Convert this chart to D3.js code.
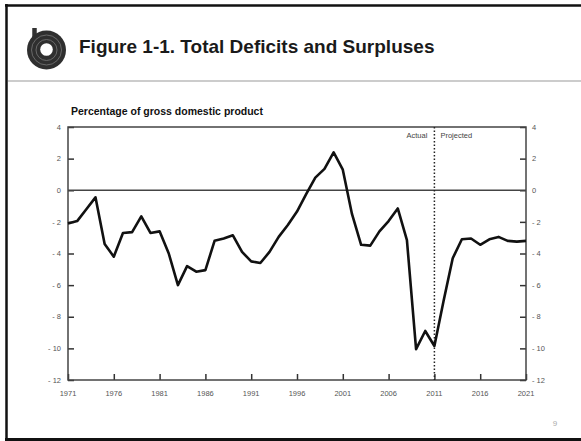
<!DOCTYPE html>
<html><head><meta charset="utf-8">
<script src="https://cdn.jsdelivr.net/npm/d3@7"></script>
<style>body{margin:0;background:#fff}svg{display:block}</style>
</head><body>
<script>
const years = d3.range(1971, 2022);
const deficits = [-2.1,-1.95,-1.2,-0.45,-3.4,-4.2,-2.7,-2.65,-1.65,-2.7,-2.6,-4.0,-6.0,-4.8,-5.15,-5.05,
  -3.2,-3.05,-2.85,-3.9,-4.5,-4.6,-3.9,-2.95,-2.2,-1.35,-0.25,0.8,1.35,2.4,1.3,
  -1.5,-3.45,-3.5,-2.6,-1.95,-1.15,-3.15,-10.05,-8.9,-9.85,
  -7.0,-4.3,-3.1,-3.05,-3.45,-3.1,-2.95,-3.2,-3.25,-3.2];
const yTicks = [4,2,0,-2,-4,-6,-8,-10,-12];
const xTicks = [1971,1976,1981,1986,1991,1996,2001,2006,2011,2016,2021];
const dividerYear = 2011;
const title = "Figure 1-1. Total Deficits and Surpluses";
const yLabel = "Percentage of gross domestic product";

const W = 581, H = 441;
const svg = d3.select("body").append("svg").attr("width", W).attr("height", H);

// page frame
svg.append("line").attr("x1",5).attr("x2",W).attr("y1",5.5).attr("y2",5.5).attr("stroke","#111").attr("stroke-width",2.5);
svg.append("line").attr("x1",6.5).attr("x2",6.5).attr("y1",4).attr("y2",440).attr("stroke","#111").attr("stroke-width",2.5);
svg.append("line").attr("x1",5).attr("x2",W).attr("y1",439.5).attr("y2",439.5).attr("stroke","#111").attr("stroke-width",3);
svg.append("line").attr("x1",8).attr("x2",W).attr("y1",81).attr("y2",81).attr("stroke","#bbb").attr("stroke-width",1.5);

// logo
const lg = svg.append("g").attr("transform","translate(46.5,50)");
lg.append("path").attr("d","M-12,-22 L-12,-8").attr("stroke","#333").attr("stroke-width",4.5).attr("fill","none");
lg.append("circle").attr("r",19.5).attr("fill","#2f2f2f");
lg.append("circle").attr("r",15).attr("fill","none").attr("stroke","#777").attr("stroke-width",0.8);
lg.append("circle").attr("r",10.5).attr("fill","none").attr("stroke","#777").attr("stroke-width",0.8);
lg.append("circle").attr("r",6.3).attr("cy",-0.5).attr("fill","#fff");

svg.append("text").attr("x",79).attr("y",52.5).text(title)
  .attr("font-family","Liberation Sans, Arial, sans-serif").attr("font-weight","bold")
  .attr("font-size",19).attr("fill","#1a1a1a");

svg.append("text").attr("x",555).attr("y",426).text("9")
  .attr("font-family","Liberation Sans, Arial, sans-serif").attr("font-size",8).attr("fill","#aaa").attr("text-anchor","middle");

// chart
const x = d3.scaleLinear().domain([1971,2021]).range([68,526]);
const y = d3.scaleLinear().domain([-12,4]).range([380,127]);
const fnt = "Liberation Sans, Arial, sans-serif";

svg.append("text").attr("x",71).attr("y",115).text(yLabel)
  .attr("font-family",fnt).attr("font-weight","bold").attr("font-size",10.5).attr("fill","#111");

const fmt = v => v < 0 ? "- " + Math.abs(v) : String(v);

const left = d3.axisRight(y).tickValues(yTicks).tickSize(6).tickFormat("");
const gl = svg.append("g").attr("transform",`translate(${x.range()[0]},0)`).call(left);
const right = d3.axisLeft(y).tickValues(yTicks).tickSize(6).tickFormat("");
const gr = svg.append("g").attr("transform",`translate(${x.range()[1]},0)`).call(right);
const bottom = d3.axisTop(x).tickValues(xTicks).tickSize(6).tickFormat("");
const gb = svg.append("g").attr("transform",`translate(0,${y.range()[0]})`).call(bottom);
[gl,gr,gb].forEach(g=>{
  g.select(".domain").remove();
  g.selectAll(".tick line").attr("stroke","#333").attr("stroke-width",1.5);
});

// tick labels
svg.append("g").selectAll("text").data(yTicks).join("text")
  .attr("x",61).attr("y",d=>y(d)+2.7).attr("text-anchor","end").text(fmt)
  .attr("font-family",fnt).attr("font-size",7.5).attr("fill","#555");
svg.append("g").selectAll("text").data(yTicks).join("text")
  .attr("x",532).attr("y",d=>y(d)+2.7).attr("text-anchor","start").text(fmt)
  .attr("font-family",fnt).attr("font-size",7.5).attr("fill","#555");
svg.append("g").selectAll("text").data(xTicks).join("text")
  .attr("x",d=>x(d)).attr("y",396).attr("text-anchor","middle").text(d=>d)
  .attr("font-family",fnt).attr("font-size",7.5).attr("fill","#555");

// frame
svg.append("rect").attr("x",68).attr("y",127).attr("width",458).attr("height",253)
  .attr("fill","none").attr("stroke","#444").attr("stroke-width",1.5);
// zero line
svg.append("line").attr("x1",68).attr("x2",526).attr("y1",y(0)).attr("y2",y(0))
  .attr("stroke","#444").attr("stroke-width",1.3);
// divider
svg.append("line").attr("x1",x(dividerYear)).attr("x2",x(dividerYear)).attr("y1",127).attr("y2",380)
  .attr("stroke","#222").attr("stroke-width",1.5).attr("stroke-dasharray","1.5,2");
svg.append("text").attr("x",x(dividerYear)-7).attr("y",138).attr("text-anchor","end").text("Actual")
  .attr("font-family",fnt).attr("font-size",7.5).attr("fill","#444");
svg.append("text").attr("x",x(dividerYear)+6).attr("y",138).attr("text-anchor","start").text("Projected")
  .attr("font-family",fnt).attr("font-size",7.5).attr("fill","#444");

// data line
const line = d3.line().x((d,i)=>x(years[i])).y(d=>y(d));
svg.append("path").attr("d",line(deficits)).attr("fill","none")
  .attr("stroke","#111").attr("stroke-width",2.6).attr("stroke-linejoin","round");
</script>
</body></html>
